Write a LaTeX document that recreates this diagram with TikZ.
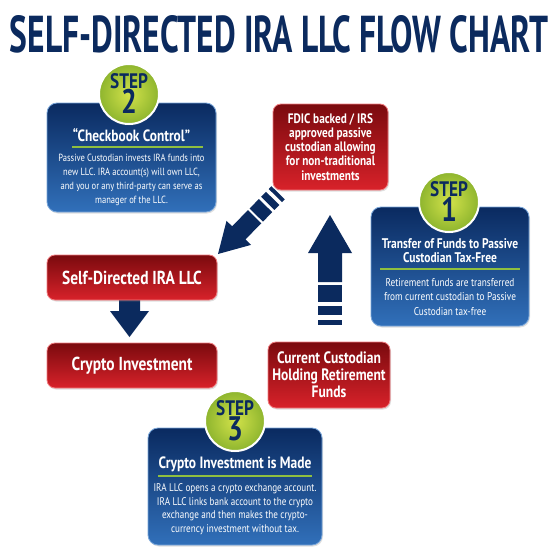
\documentclass[tikz,border=0pt]{standalone}
\usepackage{graphicx}
\usepackage{fontspec}
\setmainfont{PT Sans}[FakeStretch=0.82]
\usetikzlibrary{shadows}
\definecolor{navy}{HTML}{0B2A5E}
\definecolor{redtop}{HTML}{7A0A0E}
\definecolor{redbot}{HTML}{D8222A}
\definecolor{redline}{HTML}{F07C80}
\definecolor{bluetop}{HTML}{0A2A60}
\definecolor{bluebot}{HTML}{3170BA}
\definecolor{blueline}{HTML}{78A6DA}
\definecolor{ballin}{HTML}{D2E24A}
\definecolor{ballout}{HTML}{8EB52E}
\definecolor{rulegreen}{HTML}{8FBF3F}

\begin{document}
\begin{tikzpicture}[x=1pt,y=-1pt,
  redbox/.style={rectangle, rounded corners=8pt, draw=redline, line width=0.8pt,
    top color=redtop, bottom color=redbot, text=white, font=\bfseries,
    align=center, inner sep=0pt,
    drop shadow={opacity=.25, shadow xshift=1pt, shadow yshift=-1.5pt}},
  bluebox/.style={rectangle, rounded corners=10pt, draw=blueline, line width=0.8pt,
    top color=bluetop, bottom color=bluebot, inner sep=0pt,
    drop shadow={opacity=.25, shadow xshift=1pt, shadow yshift=-1.5pt}},
  stepball/.style={circle, minimum size=60pt, inner sep=0pt, draw=white, line width=2pt,
    inner color=ballin, outer color=ballout, text=navy, align=center,
    font=\fontsize{21}{25}\selectfont\bfseries,
    drop shadow={opacity=.25, shadow xshift=0pt, shadow yshift=-1.5pt}},
  heading/.style={text=white, inner sep=0pt, align=center},
  bodytext/.style={text=white, inner sep=0pt, align=center},
  greenrule/.style={draw=rulegreen, line width=1.5pt},
  bigarrow/.style={fill=navy}]
\useasboundingbox (0,0) rectangle (558,554);
\fill[white] (0,0) rectangle (558,554);

\node[text=navy, inner sep=0pt] (title) at (279,34)
  {\resizebox{538pt}{37pt}{\bfseries SELF-DIRECTED IRA LLC FLOW CHART}};

\fill[bigarrow] (330,215) -- (352,253) -- (342,253) -- (342,282) -- (318,282) -- (318,253) -- (308,253) -- cycle;
\fill[bigarrow] (318,285) rectangle (342,302);
\fill[bigarrow] (318,306) rectangle (342,315);
\fill[bigarrow] (318,320) rectangle (342,325);

\begin{scope}[shift={(218,254)}, rotate=135.5, scale=0.78]
\fill[bigarrow] (0,0) -- (22,38) -- (12,38) -- (12,67) -- (-12,67) -- (-12,38) -- (-22,38) -- cycle;
\fill[bigarrow] (-12,70) rectangle (12,87);
\fill[bigarrow] (-12,91) rectangle (12,100);
\fill[bigarrow] (-12,105) rectangle (12,110);
\end{scope}

\fill[bigarrow] (119,296) -- (140,296) -- (140,311) -- (149,311) -- (129.5,337) -- (110,311) -- (119,311) -- cycle;

\node[redbox, minimum width=170pt, minimum height=45pt, font=\fontsize{18.8}{19}\selectfont\bfseries] (sdira) at (132,277.5) {Self-Directed IRA LLC};
\node[redbox, minimum width=170pt, minimum height=45pt, font=\fontsize{18.8}{19}\selectfont\bfseries] (crypto) at (132,365.5) {Crypto Investment};
\node[redbox, minimum width=115pt, minimum height=86pt, font=\fontsize{13.7}{14.2}\selectfont\bfseries] (fdic) at (330.5,147)
  {FDIC backed / IRS\\approved passive\\custodian allowing\\for non-traditional\\investments};
\node[redbox, minimum width=122pt, minimum height=66pt, font=\fontsize{16.5}{16.8}\selectfont\bfseries] (custodian) at (329,375)
  {Current Custodian\\Holding Retirement\\Funds};

\node[bluebox, minimum width=169pt, minimum height=109pt] (step2box) at (131.5,157.5) {};
\node[stepball] (step2ball) at (129,94) {STEP\\{\fontsize{34}{34}\selectfont 2}};
\node[heading, font=\fontsize{16.3}{17}\selectfont\bfseries] (step2head) at (131.5,135) {“Checkbook Control”};
\draw[greenrule] (72,147) -- (203,147);
\node[bodytext, font=\fontsize{10.4}{14}\selectfont] (step2text) at (131.5,180)
  {Passive Custodian invests IRA funds into\\new LLC. IRA account(s) will own LLC,\\and you or any third-party can serve as\\manager of the LLC.};

\node[bluebox, minimum width=158pt, minimum height=119pt] (step1box) at (450,266.5) {};
\node[stepball] (step1ball) at (449,202) {STEP\\{\fontsize{34}{34}\selectfont 1}};
\node[heading, font=\fontsize{14}{14}\selectfont\bfseries] (step1head) at (450,251)
  {Transfer of Funds to Passive\\Custodian Tax-Free};
\draw[greenrule] (380,269) -- (520,269);
\node[bodytext, font=\fontsize{11.3}{14.5}\selectfont] (step1text) at (450,297)
  {Retirement funds are transferred\\from current custodian to Passive\\Custodian tax-free};

\node[bluebox, minimum width=174pt, minimum height=117pt] (step3box) at (235,486.5) {};
\node[stepball] (step3ball) at (235,421) {STEP\\{\fontsize{34}{34}\selectfont 3}};
\node[heading, font=\fontsize{16.4}{17}\selectfont\bfseries] (step3head) at (235,464) {Crypto Investment is Made};
\draw[greenrule] (158,476) -- (312,476);
\node[bodytext, font=\fontsize{11.1}{13.6}\selectfont] (step3text) at (235,509)
  {IRA LLC opens a crypto exchange account.\\IRA LLC links bank account to the crypto\\exchange and then makes the crypto-\\currency investment without tax.};
\end{tikzpicture}
\end{document}
